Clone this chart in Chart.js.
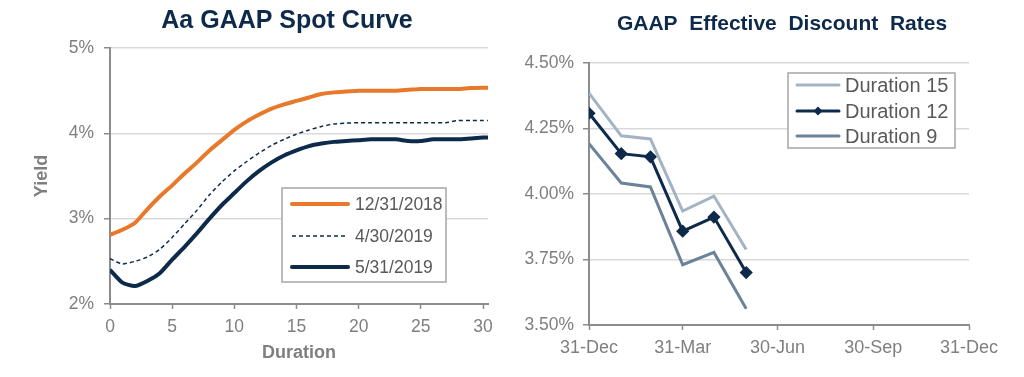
<!DOCTYPE html>
<html>
<head>
<meta charset="utf-8">
<script src="https://cdn.jsdelivr.net/npm/chart.js@4/dist/chart.umd.min.js"></script>
<style>
  html, body { margin: 0; padding: 0; background: #fff; overflow: hidden; }
  body { width: 1024px; height: 377px; position: relative; }
  .box { position: absolute; top: 0; height: 377px; }
  #leftBox { left: 0; width: 574px; }
  #rightBox { left: 512px; width: 540px; }
</style>
</head>
<body>
<div class="box" id="leftBox"><canvas id="spotChart"></canvas></div>
<div class="box" id="rightBox"><canvas id="rateChart"></canvas></div>
<script>
// left chart: Aa GAAP spot curve
const durations = [0, 1, 2, 3, 4, 5, 6, 7, 8, 9, 10, 11, 12, 13, 14, 15, 16, 17, 18, 19, 20,
                   21, 22, 23, 24, 25, 26, 27, 28, 29, 30, 30.4];
const spot20181231 = [2.81, 2.87, 2.95, 3.11, 3.26, 3.39, 3.53, 3.66, 3.80, 3.92, 4.04, 4.14, 4.22, 4.29, 4.34, 4.38,
                      4.42, 4.46, 4.48, 4.49, 4.50, 4.50, 4.50, 4.50, 4.51, 4.52, 4.52, 4.52, 4.52, 4.53, 4.535, 4.535];
const spot20190430 = [2.53, 2.47, 2.50, 2.55, 2.64, 2.78, 2.94, 3.10, 3.28, 3.43, 3.56, 3.67, 3.77, 3.86, 3.93, 3.99,
                      4.04, 4.08, 4.11, 4.12, 4.125, 4.125, 4.125, 4.125, 4.125, 4.125, 4.125, 4.125, 4.15, 4.15, 4.15, 4.15];
const spot20190531 = [2.40, 2.25, 2.21, 2.27, 2.36, 2.52, 2.67, 2.83, 3.00, 3.16, 3.30, 3.44, 3.56, 3.66, 3.74, 3.80,
                      3.85, 3.88, 3.90, 3.91, 3.92, 3.93, 3.93, 3.93, 3.91, 3.91, 3.93, 3.93, 3.93, 3.94, 3.95, 3.95];
const durationTicks = [0, 5, 10, 15, 20, 25, 30];
const yieldTicks = [2, 3, 4, 5];

// right chart: effective discount rates (days after 31-Dec-2018)
const rateDays = [0, 31, 59, 90, 120, 151];
const duration15 = [4.385, 4.222, 4.210, 3.935, 3.992, 3.788];
const duration12 = [4.308, 4.154, 4.142, 3.858, 3.912, 3.700];
const duration9 = [4.192, 4.042, 4.027, 3.730, 3.777, 3.562];
const dateTickDays = [0, 90, 181, 273, 365];
const dateTickLabels = ['31-Dec', '31-Mar', '30-Jun', '30-Sep', '31-Dec'];

const FONT = "'Liberation Sans', Arial, sans-serif";
const NAVY = '#0e2a4b';
const GREY_TXT = '#7f7f7f';
const AXIS = '#8c8c8c';
const GRID = '#d9d9d9';

function pairs(xs, ys) {
    return xs.map((x, i) => ({ x: x, y: ys[i] }));
}

// title drawn at a fixed centre (chart.js centres it between the paddings)
const fixedTitle = {
    id: 'fixedTitle',
    afterDraw(chart, args, opts) {
        const ctx = chart.ctx;
        ctx.save();
        ctx.fillStyle = NAVY;
        ctx.font = 'bold ' + opts.size + 'px ' + FONT;
        ctx.textAlign = 'center';
        ctx.textBaseline = 'middle';
        ctx.fillText(opts.text, opts.cx, opts.cy);
        ctx.restore();
    }
};

// draws an Excel-like boxed legend at fixed canvas spot
const boxLegend = {
    id: 'boxLegend',
    afterDatasetsDraw(chart, args, opts) {
        const ctx = chart.ctx;
        ctx.save();
        ctx.fillStyle = '#fff';
        ctx.fillRect(opts.x, opts.y, opts.w, opts.h);
        ctx.strokeStyle = '#a6a6a6';
        ctx.lineWidth = 1.5;
        ctx.strokeRect(opts.x, opts.y, opts.w, opts.h);
        chart.data.datasets.forEach((ds, i) => {
            const y = opts.rows[i];
            ctx.strokeStyle = ds.borderColor;
            ctx.lineWidth = ds.borderWidth;
            ctx.lineCap = ds.borderDash ? 'butt' : 'round';
            ctx.setLineDash(ds.borderDash || []);
            ctx.beginPath();
            ctx.moveTo(opts.x1, y);
            ctx.lineTo(opts.x2, y);
            ctx.stroke();
            ctx.setLineDash([]);
            if (ds.pointRadius > 0) {
                const cx = (opts.x1 + opts.x2) / 2, r = ds.pointRadius;
                ctx.fillStyle = ds.borderColor;
                ctx.beginPath();
                ctx.moveTo(cx, y - r); ctx.lineTo(cx + r, y); ctx.lineTo(cx, y + r); ctx.lineTo(cx - r, y);
                ctx.closePath();
                ctx.fill();
            }
            ctx.fillStyle = '#595959';
            ctx.font = opts.font + 'px ' + FONT;
            ctx.textBaseline = 'middle';
            ctx.fillText(ds.label, opts.tx, y + 1);
        });
        ctx.restore();
    }
};

Chart.defaults.font.family = FONT;
Chart.defaults.color = GREY_TXT;
Chart.defaults.animation = false;

new Chart(document.getElementById('spotChart').getContext('2d'), {
    type: 'line',
    data: {
        datasets: [{
            label: '12/31/2018',
            data: pairs(durations, spot20181231),
            borderColor: '#e8792b',
            borderWidth: 4,
            pointRadius: 0,
            tension: 0.2
        }, {
            label: '4/30/2019',
            data: pairs(durations, spot20190430),
            borderColor: NAVY,
            borderWidth: 1.5,
            borderDash: [4, 3],
            pointRadius: 0,
            tension: 0.2
        }, {
            label: '5/31/2019',
            data: pairs(durations, spot20190531),
            borderColor: NAVY,
            borderWidth: 4,
            pointRadius: 0,
            tension: 0.2
        }]
    },
    options: {
        responsive: true,
        maintainAspectRatio: false,
        layout: { padding: { left: 20, right: 86, top: 48, bottom: 0 } },
        plugins: {
            legend: { display: false },
            tooltip: { enabled: false },
            title: { display: false },
            fixedTitle: { text: 'Aa GAAP Spot Curve', size: 25, cx: 287, cy: 21 },
            boxLegend: { x: 282, y: 188, w: 164, h: 94, rows: [204, 236, 267], x1: 292, x2: 348, tx: 355, font: 17.5 }
        },
        scales: {
            x: {
                type: 'linear',
                min: 0,
                max: 30.4,
                afterBuildTicks: axis => { axis.ticks = durationTicks.map(v => ({ value: v })); },
                afterFit: axis => { axis.height = 73; },
                ticks: { font: { size: 17.5 }, color: GREY_TXT, padding: 8, maxRotation: 0 },
                grid: { drawOnChartArea: false, tickLength: 5, tickColor: AXIS, tickWidth: 1.5 },
                border: { color: AXIS, width: 2 },
                title: { display: true, text: 'Duration', color: GREY_TXT, font: { size: 18, weight: 'bold' }, padding: { top: 0, bottom: 13 } }
            },
            y: {
                min: 2,
                max: 5,
                afterBuildTicks: axis => { axis.ticks = yieldTicks.map(v => ({ value: v })); },
                afterFit: axis => { axis.width = 90; },
                ticks: { font: { size: 17.5 }, color: GREY_TXT, padding: 10, callback: v => v + '%' },
                grid: { color: GRID, lineWidth: 1.5, tickLength: 6, tickColor: AXIS },
                border: { color: AXIS, width: 2 },
                title: { display: true, text: 'Yield', color: GREY_TXT, font: { size: 18, weight: 'bold' }, padding: { top: 11, bottom: 0 } }
            }
        }
    },
    plugins: [boxLegend, fixedTitle]
});

new Chart(document.getElementById('rateChart').getContext('2d'), {
    type: 'line',
    data: {
        datasets: [{
            label: 'Duration 15',
            data: pairs(rateDays, duration15),
            borderColor: '#a3b3c4',
            borderWidth: 3,
            pointRadius: 0
        }, {
            label: 'Duration 12',
            data: pairs(rateDays, duration12),
            borderColor: NAVY,
            backgroundColor: NAVY,
            borderWidth: 3,
            pointStyle: 'rectRot',
            pointRadius: 4.5
        }, {
            label: 'Duration 9',
            data: pairs(rateDays, duration9),
            borderColor: '#6b8299',
            borderWidth: 3,
            pointRadius: 0
        }]
    },
    options: {
        responsive: true,
        maintainAspectRatio: false,
        layout: { padding: { left: 0, right: 83, top: 63, bottom: 0 } },
        plugins: {
            legend: { display: false },
            tooltip: { enabled: false },
            title: { display: false },
            fixedTitle: { text: 'GAAP  Effective  Discount  Rates', size: 21, cx: 270, cy: 24 },
            boxLegend: { x: 276, y: 73, w: 167, h: 75, rows: [85, 111, 136], x1: 285, x2: 327, tx: 333, font: 20 }
        },
        scales: {
            x: {
                type: 'linear',
                min: 0,
                max: 365,
                afterBuildTicks: axis => { axis.ticks = dateTickDays.map(v => ({ value: v })); },
                afterFit: axis => { axis.height = 52; },
                ticks: {
                    font: { size: 18 }, color: GREY_TXT, padding: 7, maxRotation: 0,
                    callback: v => dateTickLabels[dateTickDays.indexOf(v)]
                },
                grid: { drawOnChartArea: false, tickLength: 5, tickColor: AXIS, tickWidth: 1.5 },
                border: { color: AXIS, width: 2 }
            },
            y: {
                min: 3.5,
                max: 4.5,
                ticks: { stepSize: 0.25, font: { size: 17.5 }, color: GREY_TXT, padding: 9, callback: v => v.toFixed(2) + '%' },
                afterFit: axis => { axis.width = 77; },
                grid: { color: GRID, lineWidth: 1.5, tickLength: 6, tickColor: AXIS },
                border: { color: AXIS, width: 2 }
            }
        }
    },
    plugins: [boxLegend, fixedTitle]
});
</script>
</body>
</html>
